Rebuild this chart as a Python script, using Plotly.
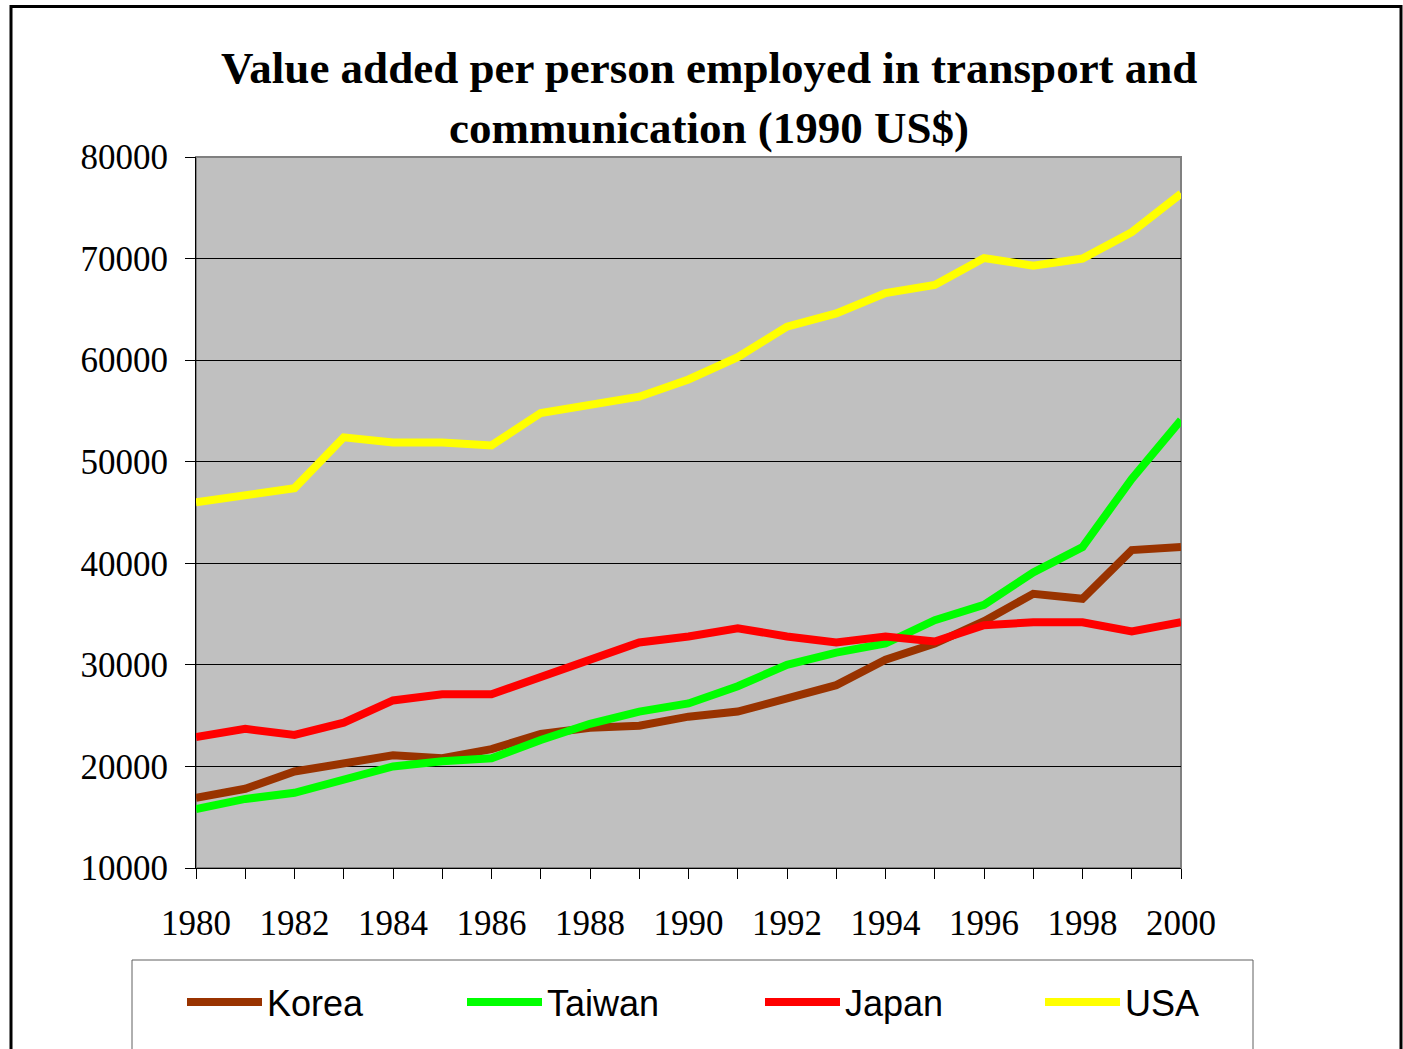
import plotly.graph_objects as go

years = list(range(1980, 2001))
tick_labels = [str(y) if y % 2 == 0 else "" for y in years]
y_ticks = [10000, 20000, 30000, 40000, 50000, 60000, 70000, 80000]

korea = [16900, 17800, 19500, 20300, 21100, 20800, 21700, 23200, 23800, 24000, 24900,
         25400, 26800, 28000, 30500, 32100, 34300, 37000, 36500, 41300, 41600]
taiwan = [15800, 16800, 17400, 18700, 20000, 20500, 20800, 22600, 24200, 25400, 26200,
          27900, 30000, 31200, 32100, 34400, 35900, 39100, 41600, 48300, 54100]
japan = [22900, 23700, 23100, 24300, 26500, 27100, 27100, 28800, 30600, 32200, 32800,
         33600, 32800, 32200, 32800, 32300, 33900, 34200, 34200, 33300, 34200]
usa = [46000, 46800, 47400, 52400, 51900, 51900, 51600, 54800, 55600, 56400, 58100,
       60300, 63300, 64600, 66600, 67400, 70050, 69300, 70000, 72600, 76400]

series_names = ["Korea", "Taiwan", "Japan", "USA"]
series_values = [korea, taiwan, japan, usa]
series_colors = ["#993300", "#00FF00", "#FF0000", "#FFFF00"]

title_lines = ["Value added per person employed in transport and",
               "communication (1990 US$)"]

W, H = 1403, 1049
L, R, T, B = 196, 1181, 157, 868
pw, ph = R - L, B - T


def px_x(x):
    return (x - L) / pw


def px_y(y):
    return (B - y) / ph


fig = go.Figure()
legend_x_px = [182, 462, 760, 1040]
legend_names = ["legend", "legend2", "legend3", "legend4"]
for name, vals, col, lg in zip(series_names, series_values, series_colors, legend_names):
    fig.add_trace(go.Scatter(x=years, y=vals, mode="lines", name=name,
                             line=dict(color=col, width=8), legend=lg))

legend_common = dict(orientation="h", yanchor="middle", xanchor="left",
                     bgcolor="rgba(0,0,0,0)", borderwidth=0, itemwidth=75,
                     font=dict(family="Liberation Sans, Arial", size=36, color="black"),
                     tracegroupgap=0)
layout_legends = {}
for lg, xp in zip(legend_names, legend_x_px):
    layout_legends[lg] = dict(x=px_x(xp), y=px_y(1002), **legend_common)

fig.update_layout(
    width=W, height=H,
    margin=dict(l=L, r=W - R, t=T, b=H - B),
    paper_bgcolor="white",
    plot_bgcolor="#C0C0C0",
    showlegend=True,
    **layout_legends,
    xaxis=dict(range=[1980, 2000], tickvals=years, ticktext=tick_labels,
               ticks="outside", ticklen=10, tickcolor="black", tickwidth=1,
               showline=True, linecolor="black", linewidth=1,
               showgrid=False, zeroline=False, ticklabelstandoff=14,
               tickfont=dict(family="Liberation Serif, Times New Roman", size=35, color="black")),
    yaxis=dict(range=[10000, 80000], tickvals=y_ticks, ticktext=[str(v) for v in y_ticks],
               ticks="outside", ticklen=10, tickcolor="black", tickwidth=1,
               showline=True, linecolor="black", linewidth=1,
               showgrid=True, gridcolor="black", gridwidth=1, zeroline=False,
               ticklabelstandoff=10,
               tickfont=dict(family="Liberation Serif, Times New Roman", size=35, color="black")),
)

# plot-area border (top/right grey)
fig.add_shape(type="rect", xref="paper", yref="paper", x0=0, x1=1, y0=0, y1=1,
              line=dict(color="#808080", width=2), layer="below")
# outer frame
fig.add_shape(type="rect", xref="paper", yref="paper",
              x0=px_x(11), x1=px_x(1401), y0=px_y(1070), y1=px_y(6.5),
              line=dict(color="black", width=3))
# legend box
fig.add_shape(type="rect", xref="paper", yref="paper",
              x0=px_x(132), x1=px_x(1253), y0=px_y(1070), y1=px_y(960),
              line=dict(color="#606060", width=1))

for txt, yc in zip(title_lines, [68, 128]):
    fig.add_annotation(text=txt, xref="paper", yref="paper", x=px_x(709), y=px_y(yc),
                       xanchor="center", yanchor="middle", showarrow=False,
                       font=dict(family="Liberation Serif, Times New Roman", size=45,
                                 color="black", weight="bold"))

fig.write_html("out.html", config={"displayModeBar": False},
               post_script="document.body.style.margin='0';document.body.style.overflow='hidden';")
